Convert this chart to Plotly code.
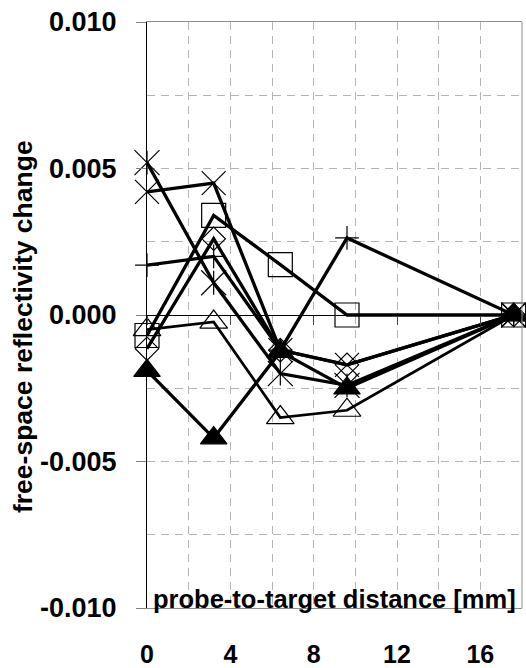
import plotly.graph_objects as go

# ---- data ----
distance_mm = [0, 3.2, 6.4, 9.6, 17.6]
series_star = [0.0052, 0.0011, -0.0020, -0.0024, 0.0]
series_cross = [0.0042, 0.0045, -0.0012, -0.0017, 0.0]
series_plus = [0.0017, 0.0020, -0.0012, 0.00263, 0.0]
series_square = [-0.0007, 0.0034, 0.00172, 0.0, 0.0]
series_diamond = [-0.00115, 0.0026, -0.0012, -0.0017, 0.0]
series_tri_open = [-0.0005, -0.00024, -0.0035, -0.00325, 0.0]
series_tri_filled = [-0.0019, -0.0042, -0.00125, -0.0025, 0.0]

x_tickvals = [0, 4, 8, 12, 16]
x_ticktext = ["0", "4", "8", "12", "16"]
y_tickvals = [-0.010, -0.005, 0.0, 0.005, 0.010]
y_ticktext = ["-0.010", "-0.005", "0.000", "0.005", "0.010"]

FONT = "Liberation Sans, Arial, sans-serif"
BLACK = "#000000"

fig = go.Figure()


def add_series(y, symbol, size, lw=3.3, mlw=1.2, mode="lines+markers"):
    fig.add_trace(go.Scatter(
        x=distance_mm, y=y, mode=mode,
        line=dict(color=BLACK, width=lw),
        marker=dict(symbol=symbol, size=size, color=BLACK,
                    line=dict(color=BLACK, width=mlw)),
        cliponaxis=False, showlegend=False, hoverinfo="skip",
    ))


add_series(series_square, "square-open", 24)
add_series(series_tri_open, "triangle-up-open", 24, lw=2.7)
add_series(series_plus, "cross-thin-open", 17)
add_series(series_diamond, "diamond-open", 18)
add_series(series_cross, "x-thin-open", 24)
add_series(series_star, "x-thin-open", 25)
add_series(series_star, "line-ns-open", 17, mode="markers")
add_series(series_tri_filled, "triangle-up", 23)

# helper trace so the zero-line axis is drawn
fig.add_trace(go.Scatter(x=[None], y=[None], xaxis="x2", showlegend=False,
                         hoverinfo="skip"))

grid = dict(showgrid=True, gridcolor="#b4b4b4", gridwidth=1, griddash="8px,6px")

fig.update_layout(
    width=526, height=668,
    margin=dict(l=147, r=4, t=22, b=60, autoexpand=False),
    paper_bgcolor="white", plot_bgcolor="white",
    font=dict(family=FONT, color=BLACK),
    xaxis=dict(
        range=[0, 18], tickmode="array", tickvals=x_tickvals, ticktext=x_ticktext,
        ticks="", ticklabelstandoff=24, automargin=False,
        tickfont=dict(family=FONT, size=25, weight="bold", color=BLACK),
        showline=True, linecolor="#8c8c8c", linewidth=1, mirror=True,
        zeroline=False,
        minor=dict(dtick=2, tick0=0, **grid),
        **grid,
    ),
    xaxis2=dict(
        range=[0, 18], overlaying="x", anchor="free", position=0.5,
        showline=True, linecolor=BLACK, linewidth=1, automargin=False,
        tickmode="array", tickvals=x_tickvals, ticks="outside", ticklen=9,
        tickcolor="#444444", tickwidth=1, showticklabels=False,
        showgrid=False, zeroline=False,
    ),
    yaxis=dict(
        range=[-0.010, 0.010], tickmode="array", tickvals=y_tickvals,
        ticktext=y_ticktext, ticks="outside", ticklen=10, tickcolor="#808080",
        ticklabelstandoff=14, automargin=False,
        tickfont=dict(family=FONT, size=27, weight="bold", color=BLACK),
        showline=True, linecolor=BLACK, linewidth=1.2, zeroline=False,
        minor=dict(dtick=0.0025, tick0=0, **grid),
        **grid,
    ),
    shapes=[dict(type="line", xref="paper", yref="paper", x0=1, x1=1, y0=0, y1=1,
                 line=dict(color="#8c8c8c", width=1))],
    annotations=[
        dict(text="<b>probe-to-target distance [mm]</b>", xref="paper", yref="paper",
             x=0.989, y=0, xanchor="right", yanchor="bottom", yshift=-7,
             showarrow=False, font=dict(family=FONT, size=25.5, color=BLACK)),
        dict(text="<b>free-space reflectivity change</b>", xref="paper", yref="paper",
             x=(23 - 147) / 375, y=0.4795, xanchor="center", yanchor="middle",
             textangle=-90, showarrow=False,
             font=dict(family=FONT, size=26.5, color=BLACK)),
    ],
)

fig.write_html("out.html",
               config={"displayModeBar": False},
               post_script="document.body.style.margin='0';"
                           "document.body.style.overflow='hidden';")
